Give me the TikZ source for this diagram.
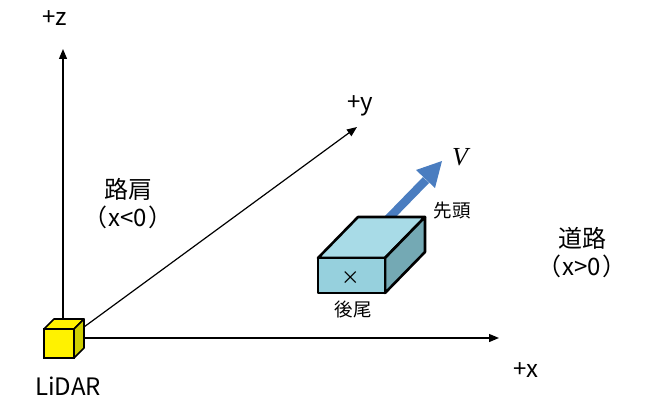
\documentclass[tikz,border=0pt]{standalone}
\usepackage{fontspec}
\setmainfont{Noto Sans CJK JP}
\newfontfamily\vfont{Liberation Serif}
\usetikzlibrary{arrows.meta, positioning}
\tikzstyle{axis} = [line width=1.2pt, -{Triangle[length=10pt,width=8pt]}]
\tikzstyle{lbl} = [inner sep=0pt, font=\fontsize{24}{28}\selectfont]
\tikzstyle{small} = [inner sep=0pt, font=\fontsize{18.5}{22}\selectfont]
\tikzstyle{edge} = [line width=2.6pt, line join=round]
\definecolor{frontblue}{HTML}{96D0DD}
\definecolor{topblue}{HTML}{A8DBE7}
\definecolor{sideblue}{HTML}{74A9B4}
\definecolor{vblue}{HTML}{4A7DC0}
\definecolor{lidarside}{HTML}{CFCF00}

\begin{document}
\begin{tikzpicture}[x=1pt, y=-1pt]
	\useasboundingbox (0,0) rectangle (662,409);
	% LiDAR
	\draw[line width=1.6pt, fill=yellow, line join=round] (44,329) -- (54,319) -- (84,319) -- (74,329) -- cycle;
	\draw[line width=1.6pt, fill=lidarside, line join=round] (74,329) -- (84,319) -- (84,348) -- (74,358) -- cycle;
	\draw[line width=1.6pt, fill=yellow] (44,329) rectangle (74,358);
	\coordinate (zbase) at (63,319);
	\coordinate (xbase) at (84,338);
	\coordinate (ybase) at (84,327);
	\coordinate (ztip) at (63,49);
	\coordinate (xtip) at (499,338);
	\coordinate (ytip) at (357,127);
	\draw[axis] (zbase) -- (ztip);
	\draw[axis] (xbase) -- (xtip);
	\draw[axis] (ybase) -- (ytip);
	\node[lbl] (zlabel) at (55,18) {+z};
	\node[lbl] (ylabel) at (360,106) {+y};
	\node[lbl] (xlabel) at (526,370) {+x};
	\node[lbl] (lidar) at (68,386) {LiDAR};
	\node[lbl] (shoulder) at (128,189) {路肩};
	\node[lbl] (shoulderx) at (128,217) {（\kern1.5pt x<0\kern1.5pt）};
	\node[lbl] (road) at (582,238) {道路};
	\node[lbl] (roadx) at (582,266) {（\kern1.5pt x>0\kern1.5pt）};
	% vehicle
	\draw[line width=8.5pt, vblue] (388,219) -- (426,180);
	\fill[vblue] (442,161) -- (435,188) -- (416,170) -- cycle;
	\node[inner sep=0pt, font=\vfont\itshape\fontsize{26}{30}\selectfont] (vel) at (460,157) {V};
	\draw[edge, fill=topblue] (318,258) -- (358,217) -- (425,217) -- (385,258) -- cycle;
	\draw[edge, fill=sideblue] (385,258) -- (425,217) -- (425,252) -- (385,293) -- cycle;
	\draw[edge, fill=frontblue] (318,258) rectangle (385,293);
	\node[small] (cross) at (351,278) {×};
	\node[small] (head) at (452,211) {先頭};
	\node[small] (tail) at (353,309) {後尾};
\end{tikzpicture}
\end{document}
